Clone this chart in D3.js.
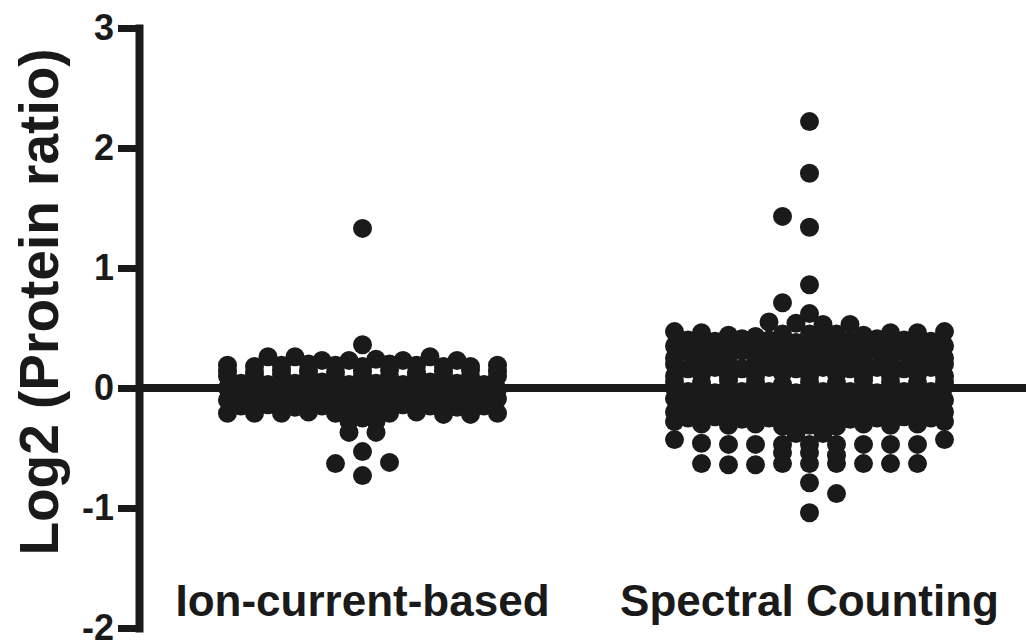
<!DOCTYPE html>
<html>
<head>
<meta charset="utf-8">
<script src="https://cdn.jsdelivr.net/npm/d3@7"></script>
<style>
  html, body { margin: 0; padding: 0; background: #ffffff; }
  svg { display: block; }
</style>
</head>
<body>
<svg id="chart" width="1026" height="644"></svg>
<script>
// Column categories
const categories = ["Ion-current-based", "Spectral Counting"];

// Log2 protein ratios, ion-current-based quantification
const ionCurrentValues = [
  1.33,
  0.36,
  0.26, 0.26, 0.23, 0.23, 0.24, 0.23, 0.26, 0.23,
  0.19, 0.18, 0.19, 0.20, 0.19, 0.18, 0.20, 0.19, 0.18, 0.18, 0.19,
  0.14, 0.13, 0.15, 0.14, 0.13, 0.14, 0.15, 0.13, 0.14, 0.15, 0.14,
  0.10, 0.09, 0.11, 0.10, 0.08, 0.10, 0.09, 0.11, 0.10, 0.09, 0.10,
  0.04, 0.03, 0.04, 0.05, 0.03, 0.04, 0.03, 0.05, 0.04, 0.03,
  0.00, -0.01, 0.01, 0.00, -0.02, 0.01, 0.00, -0.01, 0.02, 0.00, -0.01,
  -0.05, -0.04, -0.06, -0.05, -0.04, -0.05, -0.06, -0.04, -0.05, -0.05,
  -0.10, -0.09, -0.11, -0.10, -0.10, -0.12, -0.09, -0.10, -0.11, -0.10, -0.09,
  -0.15, -0.14, -0.16, -0.15, -0.15, -0.16, -0.14, -0.15, -0.16, -0.15,
  -0.21, -0.21, -0.21, -0.20, -0.21, -0.21, -0.21, -0.20, -0.22, -0.22, -0.21,
  -0.25,
  -0.28, -0.28,
  -0.37, -0.37,
  -0.53,
  -0.62,
  -0.63,
  -0.73
];

// Log2 protein ratios, spectral counting quantification
const spectralCountingValues = [
  2.22,
  1.79,
  1.43,
  1.34,
  0.86,
  0.71,
  0.62,
  0.55, 0.54, 0.53, 0.53,
  0.47, 0.46, 0.44, 0.43, 0.45, 0.45, 0.45, 0.44, 0.46, 0.46, 0.47,
  0.40, 0.39, 0.41, 0.40, 0.38, 0.40, 0.39, 0.41, 0.40, 0.39,
  0.35, 0.34, 0.36, 0.35, 0.33, 0.35, 0.34, 0.36, 0.35, 0.36, 0.35,
  0.30, 0.29, 0.31, 0.30, 0.28, 0.30, 0.29, 0.31, 0.30, 0.29,
  0.25, 0.24, 0.26, 0.25, 0.23, 0.25, 0.24, 0.26, 0.25, 0.24, 0.25,
  0.20, 0.19, 0.21, 0.20, 0.18, 0.20, 0.19, 0.21, 0.20, 0.19, 0.20,
  0.16, 0.17, 0.16, 0.17, 0.16, 0.17, 0.16, 0.17, 0.16, 0.17,
  0.10, 0.11, 0.09, 0.10, 0.12, 0.10, 0.11, 0.09, 0.10, 0.11, 0.10,
  0.05, 0.04, 0.06, 0.05, 0.03, 0.05, 0.04, 0.06, 0.05, 0.04, 0.05,
  0.00, -0.01, 0.01, 0.00, 0.02, -0.02, 0.00, 0.01, -0.01, 0.00, 0.01,
  -0.03, -0.04, -0.03, -0.03, -0.04, -0.03, -0.03, -0.04, -0.03, -0.03,
  -0.09, -0.10, -0.08, -0.10, -0.11, -0.09, -0.10, -0.08, -0.10, -0.09, -0.10,
  -0.15, -0.14, -0.16, -0.15, -0.14, -0.15, -0.16, -0.15, -0.14, -0.15,
  -0.20, -0.19, -0.21, -0.20, -0.22, -0.20, -0.19, -0.21, -0.20, -0.19, -0.20,
  -0.25, -0.24, -0.26, -0.25, -0.24, -0.25, -0.26, -0.25, -0.24, -0.25,
  -0.28, -0.30, -0.31, -0.30, -0.32, -0.31, -0.32, -0.30, -0.31, -0.30, -0.28,
  -0.37, -0.38, -0.38, -0.37,
  -0.43, -0.46, -0.47, -0.47, -0.47, -0.47, -0.47, -0.47, -0.47, -0.47, -0.43,
  -0.54, -0.54, -0.56,
  -0.63, -0.64, -0.64, -0.63, -0.63, -0.63, -0.63, -0.63, -0.63,
  -0.79,
  -0.88,
  -1.04
];

const yTicks = [-2, -1, 0, 1, 2, 3];
const yLabel = "Log2 (Protein ratio)";

// ---- layout ----
const width = 1026, height = 644;
const ink = "#1a1a1a";
const dotR = 9.5;        // symbol radius
const colStep = 27;      // horizontal distance between adjacent columns
const maxSlot = 5;       // columns either side of centre
const rowStep = 0.05;    // value height of one scatter row

const svg = d3.select("#chart");

const y = d3.scaleLinear().domain([-2, 3]).range([628, 28]);
const x = d3.scaleBand().domain(categories).range([139, 1033]);

// Column-scatter layout: values sharing a row are centred side by side;
// sparse rows step aside by up to one column when they would overlap.
function columnScatter(values, cx) {
  const rows = d3.groups(values, v => Math.round(v / rowStep));
  rows.sort((a, b) => Math.abs(a[0]) - Math.abs(b[0]) || b[0] - a[0]);
  const placed = [];
  const limit = 2 * dotR - 0.5;
  rows.forEach(([k, vs]) => {
    const n = vs.length;
    const base = vs.map((v, i) => i - (n - 1) / 2);
    const dir = k >= 0 ? -1 : 1;
    const shifts = [0, 0.5 * dir, -0.5 * dir, dir, -dir];
    let chosen = 0;
    for (const s of shifts) {
      const slots = base.map(b => b + s);
      if (slots.some(o => Math.abs(o) > maxSlot)) continue;
      const hit = slots.some((o, i) => placed.some(p =>
        Math.hypot((p.slot - o) * colStep, p.py - y(vs[i])) < limit));
      if (!hit) { chosen = s; break; }
    }
    vs.forEach((v, i) => placed.push({ value: v, slot: base[i] + chosen, py: y(v) }));
  });
  return placed.map(p => ({ ...p, px: cx + p.slot * colStep }));
}

const groups = [
  { name: categories[0], values: ionCurrentValues },
  { name: categories[1], values: spectralCountingValues }
];

// zero reference line
svg.append("line")
  .attr("x1", 139).attr("x2", width)
  .attr("y1", y(0)).attr("y2", y(0))
  .attr("stroke", ink).attr("stroke-width", 8);

// points
groups.forEach(g => {
  const cx = x(g.name) + x.bandwidth() / 2;
  svg.append("g")
    .selectAll("circle")
    .data(columnScatter(g.values, cx))
    .join("circle")
    .attr("cx", d => d.px)
    .attr("cy", d => d.py)
    .attr("r", dotR)
    .attr("fill", ink);
});

// y axis (plain hyphen for negative labels)
const yAxis = svg.append("g")
  .attr("transform", "translate(139,0)")
  .call(d3.axisLeft(y).tickValues(yTicks).tickSize(21).tickSizeOuter(0).tickPadding(4)
    .tickFormat(d => String(d)));
yAxis.select(".domain")
  .attr("stroke", ink).attr("stroke-width", 8).attr("stroke-linecap", "square");
yAxis.selectAll(".tick line")
  .attr("stroke", ink).attr("stroke-width", 7);
yAxis.selectAll(".tick text")
  .attr("fill", ink)
  .style("font-family", "'Liberation Sans', Arial, sans-serif")
  .style("font-weight", "bold")
  .style("font-size", "36px");

// y axis title
svg.append("text")
  .attr("transform", `translate(58,${(y(3) + y(-2)) / 2 - 26}) rotate(-90)`)
  .attr("text-anchor", "middle")
  .attr("fill", ink)
  .style("font-family", "'Liberation Sans', Arial, sans-serif")
  .style("font-weight", "bold")
  .style("font-size", "55px")
  .text(yLabel);

// category labels
svg.append("g")
  .selectAll("text")
  .data(categories)
  .join("text")
  .attr("x", d => x(d) + x.bandwidth() / 2)
  .attr("y", 616)
  .attr("text-anchor", "middle")
  .attr("fill", ink)
  .style("font-family", "'Liberation Sans', Arial, sans-serif")
  .style("font-weight", "bold")
  .style("font-size", "44px")
  .text(d => d);
</script>
</body>
</html>
